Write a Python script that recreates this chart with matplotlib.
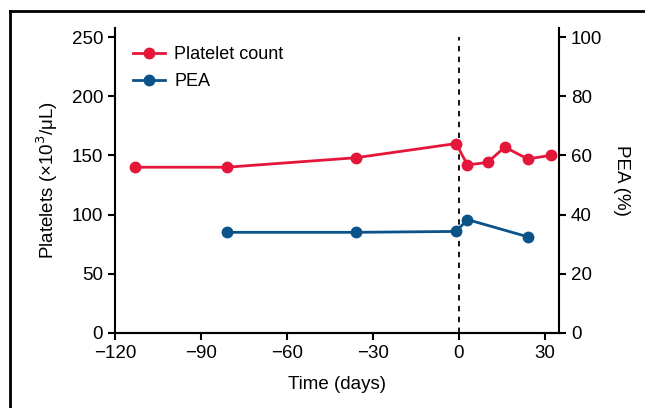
import matplotlib.pyplot as plt
from matplotlib.lines import Line2D

# platelet count (x10^3/uL) by day
plt_days = [-113, -81, -36, -1, 3, 10, 16, 24, 32]
plt_count = [140, 140, 148, 160, 142, 144, 157, 147, 150]

# PEA (%) by day
pea_days = [-81, -36, -1, 3, 24]
pea_vals = [34, 34, 34.3, 38.3, 32.5]

red = '#E4163A'
blue = '#0B5289'

plt.rcParams['font.family'] = ['Liberation Sans', 'DejaVu Sans']
plt.rcParams['axes.unicode_minus'] = True

fig = plt.figure(figsize=(6.45, 4.08), dpi=100)
ax = fig.add_axes([0.178, 0.184, 0.689, 0.747])
ax2 = ax.twinx()

ax.plot(plt_days, plt_count, color=red, marker='o', ms=7.5, lw=2, label='Platelet count', zorder=3)
ax2.plot(pea_days, pea_vals, color=blue, marker='o', ms=7.5, lw=2, label='PEA', zorder=3)
ax.vlines(0, 0, 250, colors='black', linestyles=(0, (3, 3)), lw=1.3)

ax.set_xlim(-120, 35)
ax.set_ylim(0, 257.5)
ax2.set_ylim(0, 103)
ax.set_xticks([-120, -90, -60, -30, 0, 30])
ax.set_yticks([0, 50, 100, 150, 200, 250])
ax2.set_yticks([0, 20, 40, 60, 80, 100])

for a in (ax, ax2):
    a.spines['top'].set_visible(False)
    for s in a.spines.values():
        s.set_linewidth(1.5)
    a.tick_params(width=1.5, length=5, labelsize=13.5, direction='out')
ax.spines['right'].set_visible(False)
ax2.spines['left'].set_visible(False)

lab = dict(fontsize=13.5)
ax.set_xlabel('Time (days)', labelpad=10, **lab)
ax.set_ylabel('Platelets (×10$^3$/μL)', labelpad=8, **lab)
ax2.set_ylabel('PEA (%)', rotation=270, labelpad=20, **lab)

handles = [Line2D([], [], color=red, marker='o', ms=7.5, lw=2),
           Line2D([], [], color=blue, marker='o', ms=7.5, lw=2)]
ax.legend(handles, ['Platelet count', 'PEA'], loc='upper left', frameon=False,
          fontsize=13, handlelength=1.8, handletextpad=0.5,
          borderaxespad=0.6, labelspacing=0.55)

# outer frame lines (cropped box)
fig.add_artist(Line2D([0.016, 0.016], [0, 0.973], color='black', lw=2))
fig.add_artist(Line2D([0.016, 1.0], [0.973, 0.973], color='black', lw=2))

fig.savefig('out.png', dpi=100)
